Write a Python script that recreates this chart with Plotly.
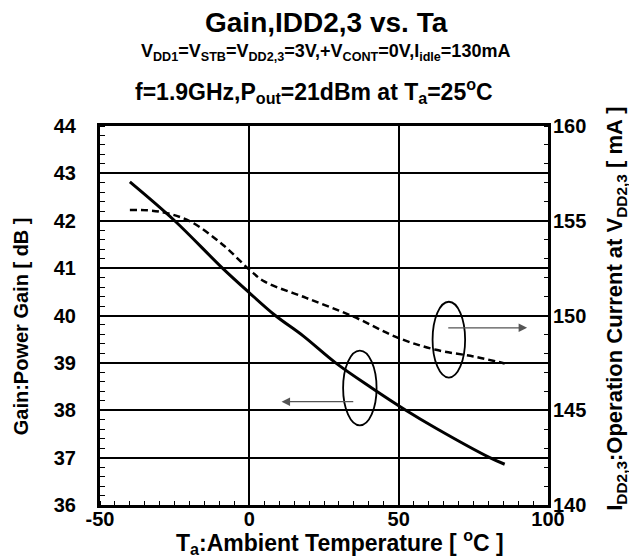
import plotly.graph_objects as go

# ---- data ----
temp_gain = [-40, -25, -9, 0, 8.7, 18, 28.9, 41, 52.4, 62.5, 80.5, 85.5]
gain_db = [42.82, 42.0, 41.0, 40.48, 40.0, 39.57, 39.0, 38.47, 38.0, 37.62, 37.0, 36.86]

temp_idd = [-40, -30, -20, -9, 0, 5, 19, 34.6, 50, 62.5, 75, 85.5]
idd_ma = [155.57, 155.48, 154.98, 153.75, 152.42, 151.8, 150.93, 149.96, 148.81, 148.19, 147.84, 147.47]

x_ticks = [-50, 0, 50, 100]
x_labels = ["-50", "0", "50", "100"]
y_ticks = [36, 37, 38, 39, 40, 41, 42, 43, 44]
y2_ticks = [140, 145, 150, 155, 160]

FONT = "Liberation Sans"

fig = go.Figure()
fig.add_trace(go.Scatter(x=temp_gain, y=gain_db, mode="lines", line=dict(color="black", width=3, shape="spline"),
                         showlegend=False, hoverinfo="skip"))
fig.add_trace(go.Scatter(x=temp_idd, y=idd_ma, mode="lines", yaxis="y2",
                         line=dict(color="black", width=2.5, dash="7px,4px", shape="spline"),
                         showlegend=False, hoverinfo="skip"))

tickfont = dict(family=FONT, size=20, color="black", weight="bold")

fig.update_layout(
    width=637, height=558,
    margin=dict(l=92, r=97, t=118, b=61),
    paper_bgcolor="white", plot_bgcolor="white",
    xaxis=dict(range=[-50, 100], tickvals=x_ticks, ticktext=x_labels, showgrid=True, gridcolor="black", gridwidth=1.5,
               showline=True, linecolor="black", linewidth=3, mirror=True, zeroline=False,
               ticks="", tickfont=tickfont, ticklabelstandoff=-6,
               minor=dict(dtick=5, ticks="inside", ticklen=4, tickcolor="black", tickwidth=1.3, showgrid=False)),
    yaxis=dict(range=[36, 44], tickvals=y_ticks, showgrid=True, gridcolor="black", gridwidth=1.5,
               showline=True, linecolor="black", linewidth=3, mirror=True, zeroline=False,
               ticks="", tickfont=tickfont, ticklabelstandoff=17,
               minor=dict(dtick=0.2, ticks="inside", ticklen=5, tickcolor="black", tickwidth=1.3, showgrid=False)),
    yaxis2=dict(range=[140, 160], tickvals=y2_ticks, overlaying="y", side="right", showgrid=False,
                showline=False, zeroline=False, ticks="", tickfont=tickfont, ticklabelstandoff=4,
                minor=dict(dtick=1, ticks="inside", ticklen=4, tickcolor="black", tickwidth=1.3, showgrid=False)),
)

ann = []
ann.append(dict(text="<b>Gain,IDD2,3 vs. Ta</b>", x=0.505, y=1.274, xref="paper", yref="paper",
                showarrow=False, font=dict(family=FONT, size=28, color="black"), xanchor="center", yanchor="middle"))
ann.append(dict(text="<b>V<sub>DD1</sub>=V<sub>STB</sub>=V<sub>DD2,3</sub>=3V,+V<sub>CONT</sub>=0V,I<sub>idle</sub>=130mA</b>",
                x=0.503, y=1.194, xref="paper", yref="paper", showarrow=False,
                font=dict(family=FONT, size=18, color="black"), xanchor="center", yanchor="middle"))
ann.append(dict(text="<b>f=1.9GHz,P<sub>out</sub>=21dBm at T<sub>a</sub>=25<sup>o</sup>C</b>",
                x=0.478, y=1.092, xref="paper", yref="paper", showarrow=False,
                font=dict(family=FONT, size=23, color="black"), xanchor="center", yanchor="middle"))
ann.append(dict(text="<b>T<sub>a</sub>:Ambient Temperature [ <sup>o</sup>C ]</b>", x=0.535, y=-0.098,
                xref="paper", yref="paper", showarrow=False,
                font=dict(family=FONT, size=23, color="black"), xanchor="center", yanchor="middle"))
ann.append(dict(text="<b>Gain:Power Gain [ dB ]</b>", x=-0.176, y=0.472, xref="paper", yref="paper",
                showarrow=False, textangle=-90, font=dict(family=FONT, size=20, color="black"),
                xanchor="center", yanchor="middle"))
ann.append(dict(text="<b>I<sub>DD2,3</sub>:Operation Current at V<sub>DD2,3</sub> [ mA ]</b>", x=1.152, y=0.518,
                xref="paper", yref="paper", showarrow=False, textangle=-90,
                font=dict(family=FONT, size=22, color="black"), xanchor="center", yanchor="middle"))
# arrows
ann.append(dict(x=10.8, y=38.18, ax=35.3, ay=38.18, xref="x", yref="y", axref="x", ayref="y", text="",
                showarrow=True, arrowhead=2, arrowsize=1.3, arrowwidth=1.3, arrowcolor="#555555"))
ann.append(dict(x=93, y=39.74, ax=66.1, ay=39.74, xref="x", yref="y", axref="x", ayref="y", text="",
                showarrow=True, arrowhead=2, arrowsize=1.3, arrowwidth=1.3, arrowcolor="#555555"))
fig.update_layout(annotations=ann)

fig.add_shape(type="circle", xref="x", yref="y", x0=31.4, x1=42.6, y0=37.68, y1=39.26,
              line=dict(color="black", width=1.8))
fig.add_shape(type="circle", xref="x", yref="y", x0=61.35, x1=72.25, y0=38.69, y1=40.29,
              line=dict(color="black", width=1.8))

fig.write_html("out.html")
